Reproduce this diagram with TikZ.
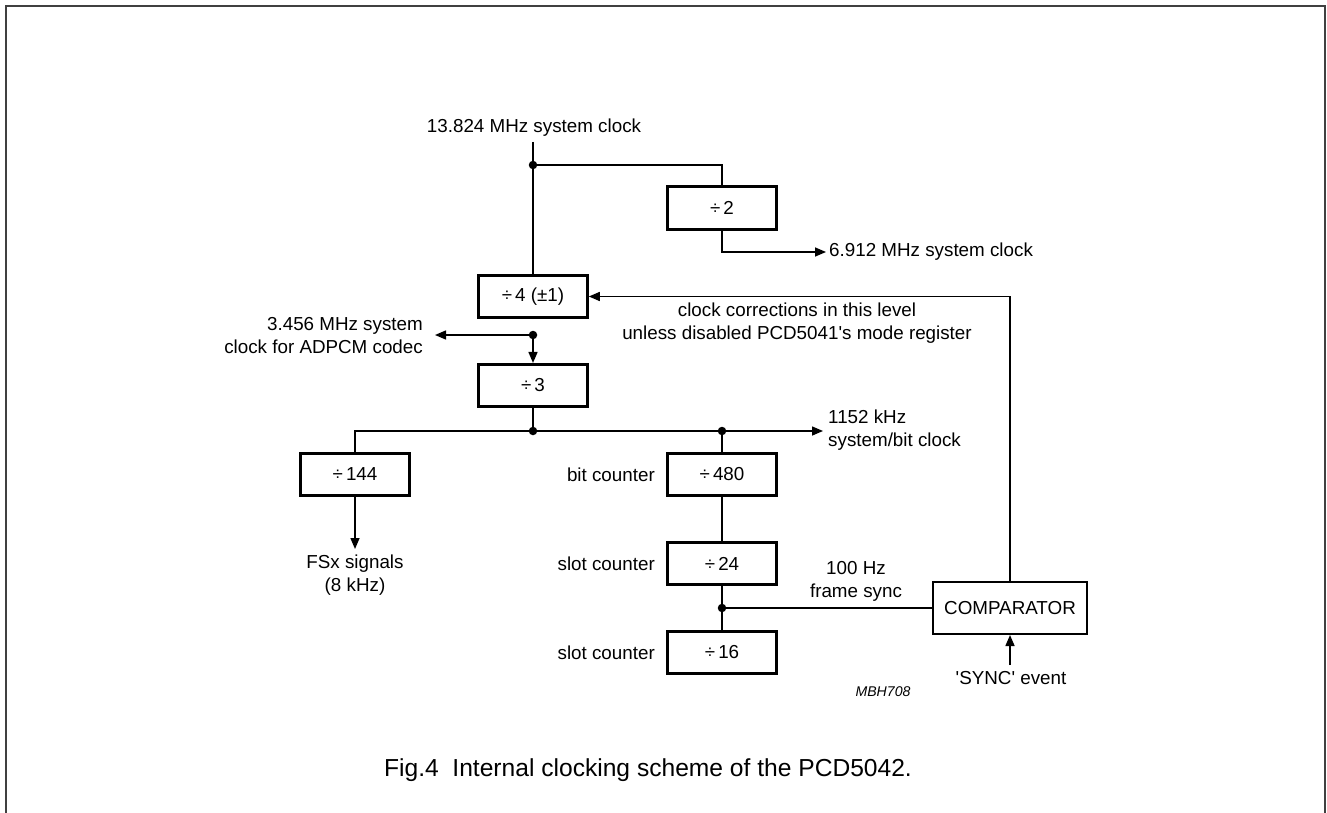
\documentclass[tikz,border=0pt]{standalone}
\usepackage{fontspec}
\setmainfont{Liberation Sans}[Ligatures=TeXOff]
\usetikzlibrary{arrows.meta}
\begin{document}
\begin{tikzpicture}[x=1pt,y=-1pt,
    lbl/.style={font=\fontsize{18.8}{23}\selectfont,inner sep=0pt,align=center},
    divbox/.style={lbl,draw,line width=2.6pt,minimum width=109pt,minimum height=42.5pt},
    cmpbox/.style={lbl,draw,line width=2pt,minimum width=154pt,minimum height=52pt},
    dot/.style={circle,fill,inner sep=0pt,minimum size=8.5pt},
    wire/.style={line width=1.5pt},
    arr/.style={wire,-{Triangle[length=11pt,width=9pt]}}]
    \useasboundingbox (0,0) rectangle (1327,813);
    \draw[line width=2pt,black!75] (6,813) -- (6,6) -- (1325,6) -- (1325,813);

    % dividers
    \node[lbl] (clk) at (534,128) {13.824 MHz system clock};
    \node[divbox] (div2) at (722,208) {÷\,2};
    \node[divbox] (div4) at (533,296.5) {÷\,4 (±1)};
    \node[divbox] (div3) at (533,385.5) {÷\,3};
    \node[divbox] (div144) at (355,474.5) {÷\,144};
    \node[divbox] (div480) at (722,474.5) {÷\,480};
    \node[divbox] (div24) at (722,563.5) {÷\,24};
    \node[divbox] (div16) at (722,652.5) {÷\,16};
    \node[cmpbox] (comp) at (1010,608) {COMPARATOR};

    % junctions and free ends
    \coordinate (top) at (533,142);
    \node[dot] (j1) at (533,165) {};
    \node[dot] (j2) at (533,335) {};
    \node[dot] (j3) at (533,431) {};
    \node[dot] (j4) at (722,431) {};
    \node[dot] (j5) at (722,608) {};
    \coordinate (o2) at (826,252);
    \coordinate (oadpcm) at (435,335);
    \coordinate (o1152) at (823,431);
    \coordinate (ofsx) at (355,549);
    \coordinate (isync) at (1010,665);

    % labels
    \node[lbl,anchor=west] at (829,252) {6.912 MHz system clock};
    \node[lbl] at (797,323.5) {clock corrections in this level\\unless disabled PCD5041's mode register};
    \node[lbl,align=right,anchor=east] at (423,335.5) {3.456 MHz system\\clock for ADPCM codec};
    \node[lbl,align=left,anchor=west] at (828,430) {1152 kHz\\system/bit clock};
    \node[lbl] at (355,575) {FSx signals\\(8 kHz)};
    \node[lbl,anchor=east] at (655,474.5) {bit counter};
    \node[lbl,anchor=east] at (655,563.5) {slot counter};
    \node[lbl,anchor=east] at (655,652.5) {slot counter};
    \node[lbl] at (856,581.5) {100 Hz\\frame sync};
    \node[lbl] at (1011,678) {'SYNC' event};
    \node[font=\fontsize{14.1}{16}\selectfont\itshape,inner sep=0pt] at (883,692) {MBH708};
    \node[font=\fontsize{24.6}{28}\selectfont,inner sep=0pt] at (648,770) {Fig.4\ \ Internal clocking scheme of the PCD5042.};

    % connections
    \draw[wire] (top) -- (div4.north);
    \draw[wire] (j1) -| (div2.north);
    \draw[arr] (div2.south) |- (o2);
    \draw[arr] (comp.north) |- (div4.east);
    \draw[arr] (j2) -- (oadpcm);
    \draw[arr] (j2) -- (div3.north);
    \draw[wire] (div3.south) -- (j3);
    \draw[wire] (div144.north) |- (j3);
    \draw[wire] (j3) -- (j4);
    \draw[arr] (j4) -- (o1152);
    \draw[wire] (j4) -- (div480.north);
    \draw[arr] (div144.south) -- (ofsx);
    \draw[wire] (div480.south) -- (div24.north);
    \draw[wire] (div24.south) -- (j5);
    \draw[wire] (j5) -- (div16.north);
    \draw[wire] (j5) -- (comp.west);
    \draw[arr] (isync) -- (comp.south);
\end{tikzpicture}
\end{document}
